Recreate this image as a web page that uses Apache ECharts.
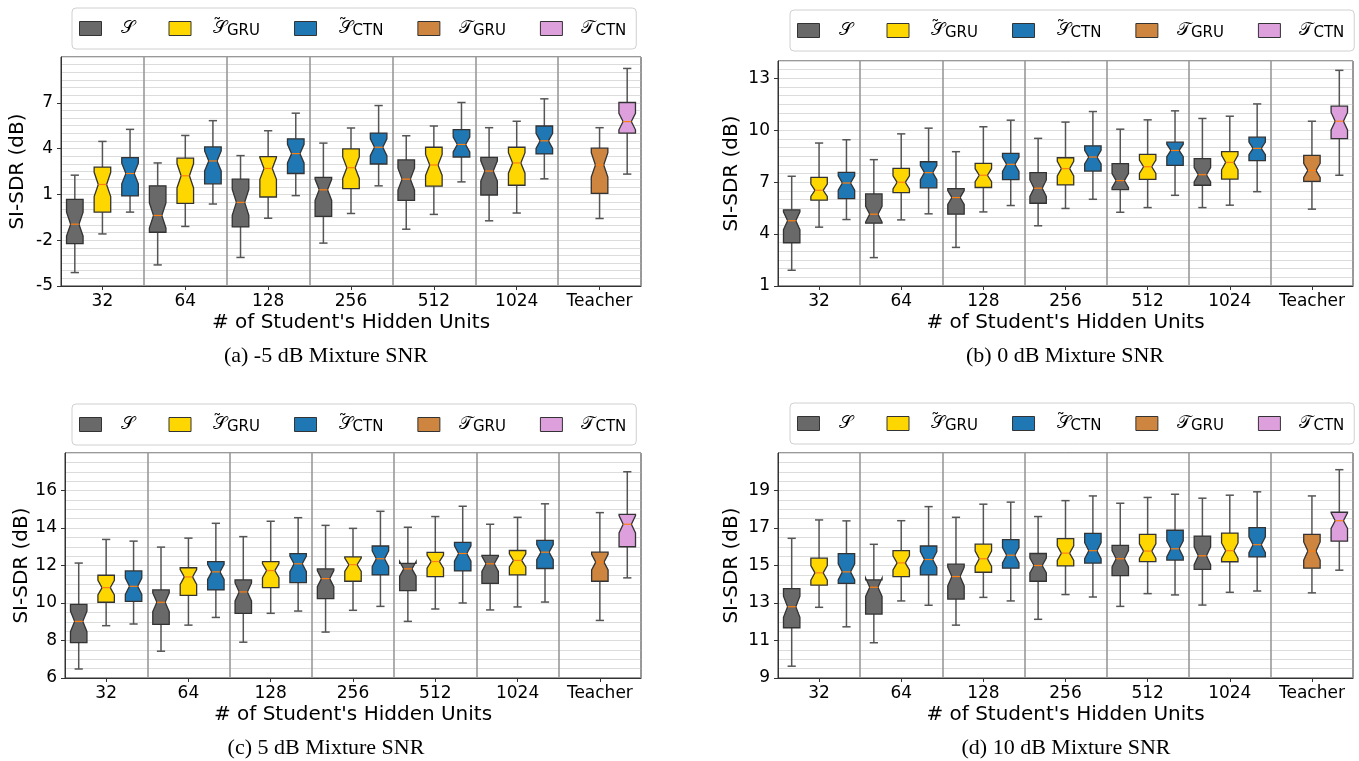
<!DOCTYPE html>
<html><head><meta charset="utf-8">
<script src="https://cdn.jsdelivr.net/npm/echarts@6/dist/echarts.min.js"></script>
<style>html,body{margin:0;padding:0;background:#fff}#c{width:1359px;height:761px}</style>
</head><body><div id="c"></div>
<script>
// ---- data: each row = [lower whisker, Q1, median, Q3, upper whisker] ----
const categories = ['32', '64', '128', '256', '512', '1024', 'Teacher'];
const seriesNames = ['S', 'S_GRU', 'S_CTN', 'T_GRU', 'T_CTN'];

// (a) -5 dB
const a_S     = [[-4.12,-2.23,-0.95,0.68,2.26],[-3.62,-1.48,-0.38,1.56,3.06],[-3.13,-1.13,0.48,2.0,3.54],[-2.19,-0.44,1.30,2.11,4.36],[-1.28,0.61,2.0,3.26,4.84],[-0.73,0.96,2.53,3.43,5.37]];
const a_S_GRU = [[-1.59,-0.16,1.65,2.79,4.47],[-1.1,0.41,2.22,3.37,4.86],[-0.56,0.83,2.70,3.48,5.17],[-0.25,1.38,2.75,3.98,5.35],[-0.31,1.54,2.93,4.09,5.48],[-0.22,1.60,3.06,4.09,5.79]];
const a_S_CTN = [[-0.16,0.9,2.37,3.41,5.26],[0.37,1.69,3.19,4.11,5.83],[0.92,2.37,3.67,4.64,6.32],[1.56,2.99,4.09,5.02,6.82],[1.82,3.45,4.27,5.24,7.02],[2.02,3.65,4.51,5.48,7.26]];
const a_T_GRU = [-0.58,1.07,2.93,4.03,5.37];
const a_T_CTN = [2.33,5.02,5.77,7.02,9.25];

// (b) 0 dB
const b_S     = [[1.91,3.50,4.77,5.40,7.34],[2.64,4.63,5.15,6.32,8.30],[3.23,5.15,6.11,6.63,8.76],[4.48,5.78,6.65,7.55,9.53],[5.26,6.57,7.09,8.07,10.06],[5.53,6.82,7.43,8.36,10.68]];
const b_S_GRU = [[4.40,5.96,6.53,7.28,9.26],[4.82,6.40,6.99,7.80,9.79],[5.28,6.69,7.40,8.09,10.20],[5.48,6.84,7.78,8.41,10.47],[5.53,7.16,7.89,8.60,10.60],[5.67,7.18,8.14,8.76,10.81]];
const b_S_CTN = [[4.84,6.05,6.95,7.57,9.45],[5.17,6.67,7.55,8.18,10.12],[5.65,7.15,8.03,8.66,10.58],[6.01,7.64,8.45,9.10,11.08],[6.24,7.97,8.83,9.31,11.12],[6.45,8.24,8.95,9.60,11.52]];
const b_T_GRU = [5.44,7.05,7.68,8.55,10.52];
const b_T_CTN = [7.40,9.51,10.52,11.39,13.46];

// (c) 5 dB
const c_S     = [[6.48,7.89,9.02,9.93,12.13],[7.43,8.86,10.04,10.70,12.98],[7.91,9.45,10.59,11.23,13.54],[8.45,10.23,11.30,11.82,14.14],[9.02,10.66,11.82,12.11,14.04],[9.63,11.05,12.09,12.54,14.20]];
const c_S_GRU = [[8.79,10.04,10.82,11.48,13.39],[8.82,10.41,11.39,11.88,13.46],[9.45,10.82,11.73,12.21,14.36],[9.61,11.16,12.04,12.46,13.98],[9.68,11.41,12.21,12.70,14.61],[9.79,11.5,12.27,12.80,14.57]];
const c_S_CTN = [[8.88,10.09,10.89,11.71,13.30],[9.23,10.70,11.66,12.21,14.25],[9.57,11.09,12.09,12.63,14.55],[9.82,11.5,12.36,13.04,14.89],[10.0,11.71,12.64,13.23,15.16],[10.05,11.84,12.71,13.34,15.29]];
const c_T_GRU = [9.07,11.16,12.18,12.71,14.82];
const c_T_CTN = [11.34,13.0,14.2,14.73,17.0];

// (d) 10 dB
const d_S     = [[9.63,11.68,12.80,13.77,16.45],[10.88,12.41,13.84,14.23,16.13],[11.82,13.21,14.41,15.07,17.57],[12.13,14.16,15.0,15.64,17.61],[12.82,14.46,15.36,16.07,18.32],[12.89,14.79,15.52,16.57,18.59]];
const d_S_GRU = [[12.77,13.95,14.61,15.39,17.43],[13.11,14.41,15.14,15.79,17.39],[13.30,14.64,15.36,16.14,18.27],[13.45,14.98,15.66,16.43,18.46],[13.5,15.21,15.77,16.66,18.63],[13.57,15.2,15.79,16.73,18.75]];
const d_S_CTN = [[11.73,14.05,14.66,15.63,17.38],[12.88,14.5,15.32,16.04,18.14],[13.11,14.86,15.55,16.38,18.38],[13.32,15.13,15.79,16.71,18.71],[13.43,15.29,15.89,16.88,18.80],[13.64,15.46,16.11,17.02,18.93]];
const d_T_GRU = [13.54,14.86,15.77,16.66,18.71];
const d_T_CTN = [14.75,16.30,17.39,17.84,20.11];

// y-axis settings per panel
const yMin = [-5, 1, 6, 9];
const yMax = [10, 14, 18, 21];
const yInterval = [3, 3, 2, 2];
const captions = ['(a) -5 dB Mixture SNR', '(b) 0 dB Mixture SNR', '(c) 5 dB Mixture SNR', '(d) 10 dB Mixture SNR'];

// ---- styling / layout ----
const colors = {S:'#696969', S_GRU:'#FFD700', S_CTN:'#1F77B4', T_GRU:'#CD853F', T_CTN:'#DDA0DD'};
const offsets = {S:-1/3, S_GRU:0, S_CTN:1/3, T_GRU:0, T_CTN:1/3};
const NOTCH_K = 0.27, BOX_W = 0.2;
const grids = [
  {left:61, top:57, width:580, height:229},
  {left:778, top:61, width:575, height:225},
  {left:65, top:453, width:576, height:225},
  {left:778, top:453, width:575, height:225}
];
const legendPos = [{left:72, top:8},{left:790, top:10},{left:72, top:404},{left:790, top:403}];
const captionPos = [[326,356],[1065,356],[326,748],[1066,748]];

const panels = [
  {S:a_S, S_GRU:a_S_GRU, S_CTN:a_S_CTN, T_GRU:a_T_GRU, T_CTN:a_T_CTN},
  {S:b_S, S_GRU:b_S_GRU, S_CTN:b_S_CTN, T_GRU:b_T_GRU, T_CTN:b_T_CTN},
  {S:c_S, S_GRU:c_S_GRU, S_CTN:c_S_CTN, T_GRU:c_T_GRU, T_CTN:c_T_CTN},
  {S:d_S, S_GRU:d_S_GRU, S_CTN:d_S_CTN, T_GRU:d_T_GRU, T_CTN:d_T_CTN}
];

function makeRender(name){
  const off = offsets[name], fill = colors[name];
  return function(params, api){
    const ci = api.value(0);
    const lo = api.value(1), q1 = api.value(2), md = api.value(3), q3 = api.value(4), hi = api.value(5);
    const band = api.size([1, 0])[0];
    const cx = api.coord([ci, md])[0] + off * band;
    const hw = band * BOX_W / 2, nw = hw / 2;
    const y = v => api.coord([ci, v])[1];
    const iqr = q3 - q1;
    const Y1 = y(q1), Y3 = y(q3), Ym = y(md), Ynl = y(md - NOTCH_K * iqr), Ynh = y(md + NOTCH_K * iqr);
    const Ylo = y(lo), Yhi = y(hi);
    const wStyle = {stroke:'#555', lineWidth:1.5, fill:null};
    const pts = [[cx-hw,Y1],[cx+hw,Y1],[cx+hw,Ynl],[cx+nw,Ym],[cx+hw,Ynh],[cx+hw,Y3],[cx-hw,Y3],[cx-hw,Ynh],[cx-nw,Ym],[cx-hw,Ynl]];
    return {type:'group', children:[
      {type:'line', shape:{x1:cx,y1:Y3,x2:cx,y2:Yhi}, style:wStyle},
      {type:'line', shape:{x1:cx,y1:Y1,x2:cx,y2:Ylo}, style:wStyle},
      {type:'line', shape:{x1:cx-nw,y1:Yhi,x2:cx+nw,y2:Yhi}, style:wStyle},
      {type:'line', shape:{x1:cx-nw,y1:Ylo,x2:cx+nw,y2:Ylo}, style:wStyle},
      {type:'polygon', shape:{points:pts}, style:{fill:fill, stroke:'#333', lineWidth:1.3}},
      {type:'line', shape:{x1:cx-nw,y1:Ym,x2:cx+nw,y2:Ym}, style:{stroke:'#FF7F0E', lineWidth:1.2}}
    ]};
  };
}

const option = {
  animation:false,
  backgroundColor:'#fff',
  textStyle:{fontFamily:'DejaVu Sans'},
  grid:[], xAxis:[], yAxis:[], series:[], legend:[], graphic:[]
};

const legendLabel = {
  S:'{m|\u{1D4AE}}',
  S_GRU:'{t|\u02DC}{n|\u{1D4AE}}{s|GRU}',
  S_CTN:'{t|\u02DC}{n|\u{1D4AE}}{s|CTN}',
  T_GRU:'{m|\u{1D4AF}}{s|GRU}',
  T_CTN:'{m|\u{1D4AF}}{s|CTN}'
};
const mathFont = 'DejaVu Sans, DejaVu Serif, Noto Sans, serif';

panels.forEach((p, i) => {
  option.grid.push(Object.assign({show:true, borderColor:'#333', borderWidth:1, backgroundColor:'transparent'}, grids[i]));
  option.xAxis.push({
    type:'category', gridIndex:i, data:categories, boundaryGap:true,
    name:"# of Student's Hidden Units", nameLocation:'middle', nameGap:27,
    nameTextStyle:{fontSize:20, color:'#000', fontFamily:'DejaVu Sans'},
    axisLine:{onZero:false, lineStyle:{color:'#333', width:1}},
    axisTick:{show:true, alignWithLabel:true, length:4, lineStyle:{color:'#333'}},
    axisLabel:{fontSize:17, color:'#000', margin:7, interval:0},
    splitLine:{show:true, lineStyle:{color:'#999', width:1.6}}
  });
  option.yAxis.push({
    type:'value', gridIndex:i, min:yMin[i], max:yMax[i], interval:yInterval[i],
    name:'SI-SDR (dB)', nameLocation:'middle', nameRotate:90, nameGap: i % 2 ? 36 : 33,
    nameTextStyle:{fontSize:20, color:'#000', fontFamily:'DejaVu Sans'},
    axisLine:{show:true, lineStyle:{color:'#333'}},
    axisTick:{show:true, length:4, lineStyle:{color:'#333'}},
    axisLabel:{fontSize:17, color:'#000', margin:8, showMaxLabel:false},
    splitLine:{show:false}
  });
  // helper axis for the fine 0.5 dB grid lines
  option.yAxis.push({
    type:'value', gridIndex:i, min:yMin[i], max:yMax[i], interval:0.5,
    axisLine:{show:false}, axisTick:{show:false}, axisLabel:{show:false},
    splitLine:{show:true, lineStyle:{color:'#dcdcdc', width:1.2}}
  });
  const yIdx = i * 2;
  seriesNames.forEach(name => {
    const vals = p[name];
    const data = name.startsWith('T_') ? [[6].concat(vals)] : vals.map((r, k) => [k].concat(r));
    option.series.push({
      type:'custom', name:name, xAxisIndex:i, yAxisIndex:yIdx,
      itemStyle:{color:colors[name]},
      encode:{x:0, y:[1,2,3,4,5]},
      renderItem:makeRender(name), data:data, z:3
    });
  });
  option.legend.push(Object.assign({
    data:seriesNames, orient:'horizontal', icon:'rect', itemWidth:22, itemHeight:14, itemGap:34,
    width:620,
    borderColor:'#d0d0d0', borderWidth:1, borderRadius:4, padding:[10, 10, 10, 7],
    backgroundColor:'#fff',
    itemStyle:{borderColor:'#333', borderWidth:1},
    formatter: n => legendLabel[n],
    textStyle:{color:'#000', rich:{
      m:{fontSize:18, fontFamily:mathFont, padding:[0,0,0,14], color:'#000'},
      n:{fontSize:18, fontFamily:mathFont, color:'#000'},
      t:{fontSize:17, fontFamily:'DejaVu Sans', color:'#000', width:0, padding:[0,0,0,17], align:'left', verticalAlign:'top', lineHeight:1},
      s:{fontSize:15, fontFamily:'DejaVu Sans', color:'#000', padding:[6,0,0,0]}
    }}
  }, legendPos[i]));
  option.graphic.push({
    type:'text', x:captionPos[i][0], y:captionPos[i][1],
    style:{text:captions[i], font:'22px "Liberation Serif", serif', fill:'#000', textAlign:'center', textVerticalAlign:'middle'}
  });
});

const chart = echarts.init(document.getElementById('c'), null, {renderer:'canvas'});
chart.setOption(option);
</script>
</body></html>
